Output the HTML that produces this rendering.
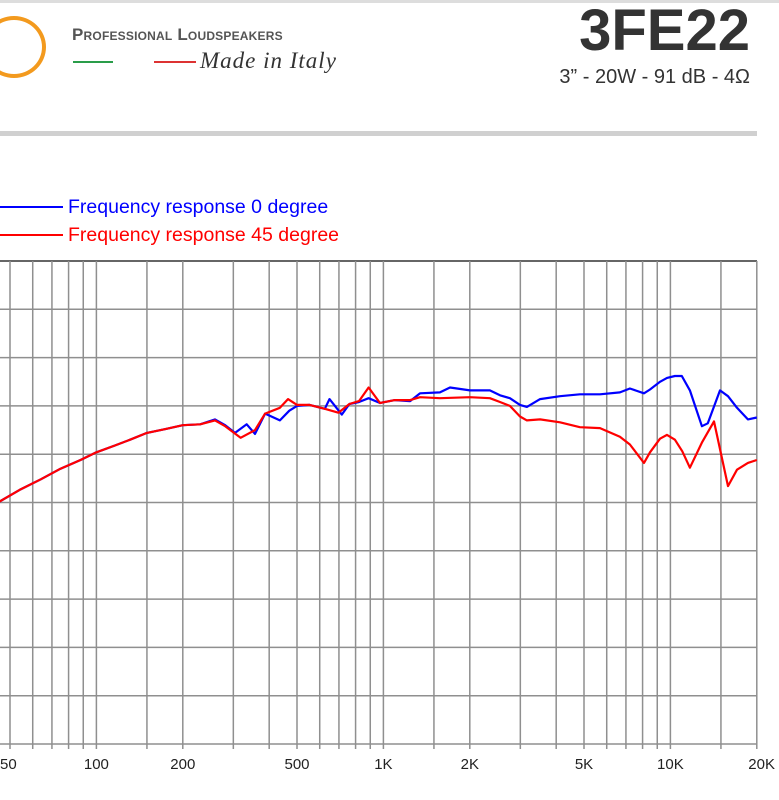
<!DOCTYPE html>
<html><head><meta charset="utf-8"><style>
body{margin:0;width:779px;height:800px;background:#fff;overflow:hidden;font-family:"Liberation Sans",sans-serif;position:relative}
.a{position:absolute}
</style></head><body>
<div class="a" style="left:0;top:0;width:779px;height:3px;background:#ddd"></div>
<div class="a" style="left:-18px;top:16px;width:56px;height:54px;border:4px solid #f39a1e;border-radius:50%"></div>
<div class="a" style="left:72px;top:25px;font-size:17px;font-weight:bold;color:#555;font-variant:small-caps;letter-spacing:0.2px">Professional Loudspeakers</div>
<div class="a" style="left:73px;top:61px;width:40px;height:2px;background:#2a9d4a"></div>
<div class="a" style="left:154px;top:61px;width:42px;height:2px;background:#d33"></div>
<div class="a" style="left:200px;top:48px;font-size:23px;font-style:italic;font-family:'Liberation Serif',serif;color:#333;letter-spacing:1px">Made in Italy</div>
<div class="a" style="right:29px;top:-3px;font-size:58px;font-weight:bold;color:#333;letter-spacing:0px;transform:scaleX(1.0);transform-origin:right">3FE22</div>
<div class="a" style="right:29px;top:66px;font-size:20px;color:#333">3” - 20W - 91 dB - 4Ω</div>
<div class="a" style="left:0;top:131px;width:757px;height:5px;background:#d0d0d0"></div>
<svg class="a" style="left:0;top:0" width="779" height="800">
<g id="grid"></g><g id="curves"></g><g id="labels"></g>
<line x1="0" y1="207" x2="63" y2="207" stroke="#00f" stroke-width="2"/>
<text x="68" y="213" font-size="19.5" fill="#00f">Frequency response 0 degree</text>
<line x1="0" y1="235" x2="63" y2="235" stroke="#f00" stroke-width="2"/>
<text x="68" y="241" font-size="19.5" fill="#f00">Frequency response 45 degree</text>
</svg>
<script>
const gridFreqs=[50,60,70,80,90,100,150,200,300,400,500,600,700,800,900,1000,1500,2000,3000,4000,5000,6000,7000,8000,9000,10000,15000,20000];
const tickFreqs=[50,100,200,500,1000,2000,5000,10000,20000];
const tickLabels=["50","100","200","500","1K","2K","5K","10K","20K"];
const blueFreq=[46,54,64,75,88,100,116,131,150,174,200,230,259,281,304,334,357,387,436,470,500,553,625,649,716,761,822,888,973,1097,1239,1342,1574,1706,2004,2350,2548,2760,2991,3163,3515,4124,4840,5684,6670,7227,8090,8490,9200,9730,10370,10960,11690,12880,13500,14890,15880,17060,18630,20000];
const blueDb=[75.1,76.3,77.4,78.5,79.4,80.2,80.9,81.5,82.2,82.6,83.0,83.1,83.6,83.0,82.2,83.1,82.1,84.2,83.5,84.5,85.0,85.1,84.7,85.7,84.1,85.2,85.4,85.8,85.3,85.6,85.5,86.3,86.4,86.9,86.6,86.6,86.1,85.8,85.1,84.9,85.7,86.0,86.2,86.2,86.4,86.8,86.3,86.7,87.5,87.9,88.1,88.1,86.6,82.9,83.2,86.6,86.0,84.8,83.6,83.8];
const redFreq=[46,54,64,75,88,100,116,131,150,174,200,230,259,281,318,357,387,436,465,500,553,625,697,761,822,888,973,1097,1239,1342,1574,2004,2350,2548,2760,2991,3163,3515,4124,4840,5684,6670,7227,8090,8490,9200,9730,10370,11000,11690,12880,14190,15880,17060,18630,20000];
const redDb=[75.1,76.3,77.4,78.5,79.4,80.2,80.9,81.5,82.2,82.6,83.0,83.1,83.5,82.9,81.7,82.5,84.2,84.8,85.7,85.1,85.1,84.7,84.3,85.2,85.5,86.9,85.3,85.6,85.6,85.9,85.8,85.9,85.8,85.4,85.0,83.9,83.5,83.6,83.3,82.8,82.7,81.8,81.0,79.1,80.2,81.6,82.0,81.5,80.3,78.6,81.2,83.4,76.7,78.4,79.1,79.4];
const dbTicks=[100,95,90,85,80,75,70,65,60,55,50];
const NS="http://www.w3.org/2000/svg";
const X0=10,DEC=287,Y0=261,PER=9.66,RIGHT=757;
function xs(f){return X0+DEC*Math.log10(f/50);}
function ys(d){return Y0+(100-d)*PER;}
const grid=document.getElementById('grid');
for(const d of dbTicks){
 const l=document.createElementNS(NS,'line');
 l.setAttribute('x1',0);l.setAttribute('x2',RIGHT);
 l.setAttribute('y1',ys(d));l.setAttribute('y2',ys(d));
 l.setAttribute('stroke',d===100?'#666':'#8f8f8f');l.setAttribute('stroke-width',d===100?2:1.5);
 
 
 grid.appendChild(l);
}
for(const f of gridFreqs){
 const l=document.createElementNS(NS,'line');
 l.setAttribute('x1',xs(f));l.setAttribute('x2',xs(f));
 l.setAttribute('y1',ys(100));l.setAttribute('y2',ys(50)+5);
 l.setAttribute('stroke','#8f8f8f');l.setAttribute('stroke-width',1.5);
 
 
 grid.appendChild(l);
}
const labels=document.getElementById('labels');
tickFreqs.forEach((f,i)=>{
 const t=document.createElementNS(NS,'text');
 t.setAttribute('x',Math.min(xs(f),762));t.setAttribute('y',769);
 t.setAttribute('text-anchor',i===0?'start':(i===tickFreqs.length-1?'end':'middle'));
 if(i===0)t.setAttribute('x',0);
 if(i===tickFreqs.length-1)t.setAttribute('x',775);
 t.setAttribute('font-size','15');t.setAttribute('fill','#222');
 t.textContent=tickLabels[i];
 
 
 labels.appendChild(t);
});
const curves=document.getElementById('curves');
function curve(fr,db,color,name){
 const p=document.createElementNS(NS,'path');
 p.setAttribute('d',fr.map((f,i)=>(i?'L':'M')+xs(f).toFixed(1)+' '+ys(db[i]).toFixed(1)).join(' '));
 p.setAttribute('fill','none');p.setAttribute('stroke',color);p.setAttribute('stroke-width',2.2);p.setAttribute('stroke-linejoin','round');
 
 
 curves.appendChild(p);
}
curve(blueFreq,blueDb,'#00f','response-0deg-line');
curve(redFreq,redDb,'#f00','response-45deg-line');
</script>
</body></html>
